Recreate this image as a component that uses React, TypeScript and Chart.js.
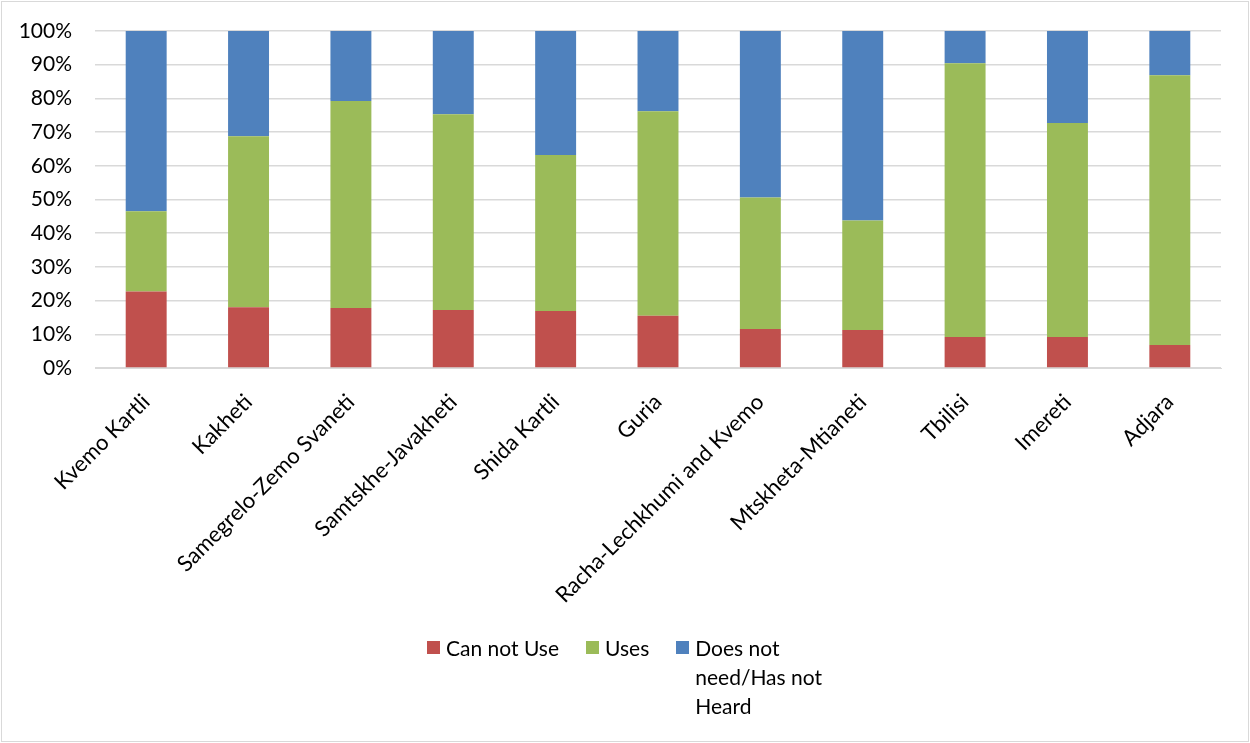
import React, { useEffect, useRef } from "react";
import { Chart, registerables } from "chart.js";

Chart.register(...registerables);

// Regions along the x axis
const regions = [
  "Kvemo Kartli",
  "Kakheti",
  "Samegrelo-Zemo Svaneti",
  "Samtskhe-Javakheti",
  "Shida Kartli",
  "Guria",
  "Racha-Lechkhumi and Kvemo",
  "Mtskheta-Mtianeti",
  "Tbilisi",
  "Imereti",
  "Adjara",
];

// Shares (percent) per region, stacked bottom to top
const canNotUse = [22.7, 18.0, 17.8, 17.2, 16.9, 15.5, 11.6, 11.3, 9.2, 9.2, 6.8];
const uses = [23.8, 50.8, 61.4, 58.1, 46.3, 60.7, 39.0, 32.5, 81.2, 63.5, 80.1];
const doesNotNeed = [53.5, 31.2, 20.8, 24.7, 36.8, 23.8, 49.4, 56.2, 9.6, 27.3, 13.1];

// Legend entries; the last one wraps over three lines
const seriesNames: string[][] = [
  ["Can not Use"],
  ["Uses"],
  ["Does not", "need/Has not", "Heard"],
];
const seriesColors = ["#C0504D", "#9BBB59", "#4F81BD"];

const yTicks = [0, 10, 20, 30, 40, 50, 60, 70, 80, 90, 100];

const FONT = "Lato, 'Liberation Sans', sans-serif";

// Thin grey frame around the whole chart
const framePlugin = {
  id: "frame",
  afterDraw(chart: Chart) {
    const ctx = chart.ctx;
    ctx.save();
    ctx.strokeStyle = "#d9d9d9";
    ctx.lineWidth = 1;
    ctx.strokeRect(1.5, 1.5, chart.width - 3, chart.height - 3);
    ctx.restore();
  },
};

export default function App() {
  const canvasRef = useRef<HTMLCanvasElement | null>(null);

  useEffect(() => {
    if (!canvasRef.current) return;
    const seriesData = [canNotUse, uses, doesNotNeed];
    const chart = new Chart(canvasRef.current, {
      type: "bar",
      data: {
        labels: regions,
        datasets: seriesData.map((d, i) => ({
          label: seriesNames[i].join(" "),
          data: d,
          backgroundColor: seriesColors[i],
          borderWidth: 0,
          barPercentage: 0.8,
          categoryPercentage: 0.5,
        })),
      },
      options: {
        animation: false,
        responsive: true,
        maintainAspectRatio: false,
        layout: { padding: { top: 31, left: 0, right: 29, bottom: 121 } },
        plugins: {
          tooltip: { enabled: false },
          legend: { display: false },
        },
        scales: {
          x: {
            stacked: true,
            grid: { display: false },
            border: { display: true, color: "#d9d9d9", width: 1 },
            ticks: {
              color: "#000",
              font: { family: FONT, size: 22 },
              maxRotation: 45,
              minRotation: 45,
              autoSkip: false,
              padding: 13,
            },
            afterFit(scale: any) {
              scale.height = 254;
              scale.paddingTop = 0;
            },
          },
          y: {
            stacked: true,
            min: 0,
            max: 100,
            afterBuildTicks(scale: any) {
              scale.ticks = yTicks.map((v) => ({ value: v }));
            },
            grid: { color: "#d9d9d9", lineWidth: 1.5, drawTicks: false },
            border: { display: false },
            ticks: {
              color: "#000",
              font: { family: FONT, size: 21 },
              padding: 23,
              callback: (v: any) => `${v}%`,
            },
            afterFit(scale: any) {
              scale.width = 95;
              scale.paddingTop = 0;
              scale.paddingBottom = 0;
            },
          },
        },
      },
      plugins: [framePlugin],
    });
    return () => chart.destroy();
  }, []);

  return (
    <div
      style={{
        position: "fixed",
        left: 0,
        top: 0,
        width: 1250,
        height: 743,
        background: "#fff",
      }}
    >
      <canvas ref={canvasRef} />
      <div
        style={{
          position: "absolute",
          left: 427,
          top: 633,
          display: "flex",
          alignItems: "flex-start",
          fontFamily: FONT,
          fontSize: 21,
          lineHeight: "29px",
          color: "#000",
        }}
      >
        {seriesNames.map((lines, i) => (
          <div
            key={i}
            style={{
              display: "flex",
              alignItems: "flex-start",
              marginRight: i < seriesNames.length - 1 ? 27 : 0,
            }}
          >
            <span
              style={{
                display: "inline-block",
                width: 13,
                height: 13,
                marginTop: 8,
                marginRight: 6,
                background: seriesColors[i],
              }}
            />
            <div>
              {lines.map((t, j) => (
                <div key={j} style={{ whiteSpace: "nowrap" }}>
                  {t}
                </div>
              ))}
            </div>
          </div>
        ))}
      </div>
    </div>
  );
}
